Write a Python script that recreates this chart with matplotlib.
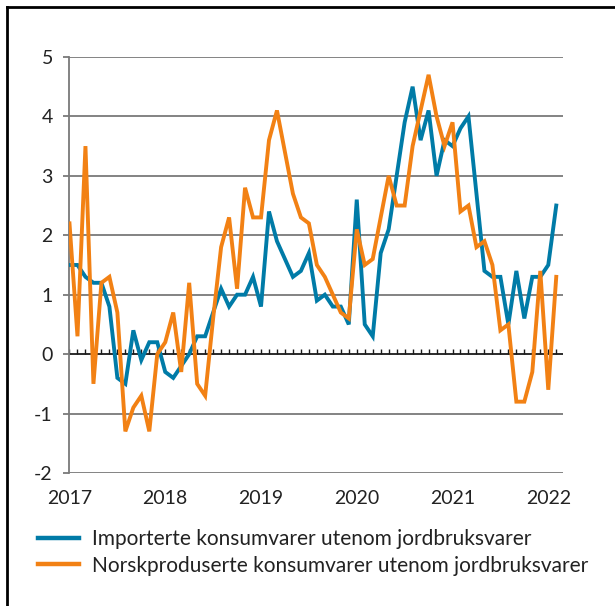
import numpy as np
import matplotlib
matplotlib.use("Agg")
import matplotlib.pyplot as plt
from matplotlib.lines import Line2D

plt.rcParams['font.family'] = ['Lato', 'DejaVu Sans']
plt.rcParams['axes.unicode_minus'] = False

# monthly data, Jan 2017 - Feb 2022 (12-month change, per cent)
start_year = 2017
n_months = 62
importerte = [1.5, 1.5, 1.3, 1.2, 1.2, 0.8, -0.4, -0.5, 0.4, -0.1, 0.2, 0.2,
              -0.3, -0.4, -0.2, 0.0, 0.3, 0.3, 0.7, 1.1, 0.8, 1.0, 1.0, 1.3,
              0.8, 2.4, 1.9, 1.6, 1.3, 1.4, 1.7, 0.9, 1.0, 0.8, 0.8, 0.5,
              2.6, 0.5, 0.3, 1.7, 2.1, 3.0, 3.9, 4.5, 3.6, 4.1, 3.0, 3.6,
              3.5, 3.8, 4.0, 2.7, 1.4, 1.3, 1.3, 0.5, 1.4, 0.6, 1.3, 1.3,
              1.5, 2.5]
norskproduserte = [2.2, 0.3, 3.5, -0.5, 1.2, 1.3, 0.7, -1.3, -0.9, -0.7, -1.3, 0.0,
                   0.2, 0.7, -0.3, 1.2, -0.5, -0.7, 0.6, 1.8, 2.3, 1.1, 2.8, 2.3,
                   2.3, 3.6, 4.1, 3.4, 2.7, 2.3, 2.2, 1.5, 1.3, 1.0, 0.7, 0.6,
                   2.1, 1.5, 1.6, 2.3, 3.0, 2.5, 2.5, 3.5, 4.1, 4.7, 4.0, 3.5,
                   3.9, 2.4, 2.5, 1.8, 1.9, 1.5, 0.4, 0.5, -0.8, -0.8, -0.3, 1.4,
                   -0.6, 1.3]
labels = ["Importerte konsumvarer utenom jordbruksvarer",
          "Norskproduserte konsumvarer utenom jordbruksvarer"]
colors = ["#007ba7", "#f28114"]
year_ticks = [2017, 2018, 2019, 2020, 2021, 2022]
y_ticks = [-2, -1, 0, 1, 2, 3, 4, 5]

x = start_year + np.arange(n_months) / 12.0

fig = plt.figure(figsize=(6.15, 6.06), dpi=100)
ax = fig.add_axes([0.113, 0.2195, 0.8025, 0.6865])

grid_col = "#7a7a7a"
for v in y_ticks:
    if v != 0:
        ax.axhline(v, color=grid_col, lw=1.3, zorder=1)
ax.axhline(0, color="#1a1a1a", lw=1.3, zorder=1)
# month ticks on the zero line
months = start_year + np.arange(n_months + 1) / 12.0
ax.vlines(months, 0, 0.08, color="#1a1a1a", lw=1.0, zorder=1)

ax.plot(x, importerte, color=colors[0], lw=2.8, solid_joinstyle="miter", zorder=3)
ax.plot(x, norskproduserte, color=colors[1], lw=2.8, solid_joinstyle="miter", zorder=3)

ax.set_xlim(start_year, start_year + 61.85 / 12)
ax.set_ylim(-2, 5)
ax.set_xticks(year_ticks)
ax.set_yticks(y_ticks)
ax.tick_params(axis="x", length=0, pad=12, labelsize=14, colors="#222222")
ax.tick_params(axis="y", length=4, width=1.3, color=grid_col, pad=8, labelsize=14,
               labelcolor="#222222")
for s in ["top", "right", "bottom"]:
    ax.spines[s].set_visible(False)
ax.spines["left"].set_color(grid_col)
ax.spines["left"].set_linewidth(1.3)

handles = [Line2D([], [], color=c, lw=3.2) for c in colors]
fig.legend(handles, labels, loc="upper left", bbox_to_anchor=(0.062, 0.127),
           frameon=False, fontsize=15, handlelength=1.95, handletextpad=0.64,
           labelspacing=0.32, borderaxespad=0, borderpad=0, labelcolor="#222222")

# outer frame
fig.add_artist(Line2D([0.012, 0.012], [0, 0.989], color="black", lw=2,
                      transform=fig.transFigure))
fig.add_artist(Line2D([0.011, 1.0], [0.989, 0.989], color="black", lw=2,
                      transform=fig.transFigure))

fig.savefig("out.png", dpi=100)
